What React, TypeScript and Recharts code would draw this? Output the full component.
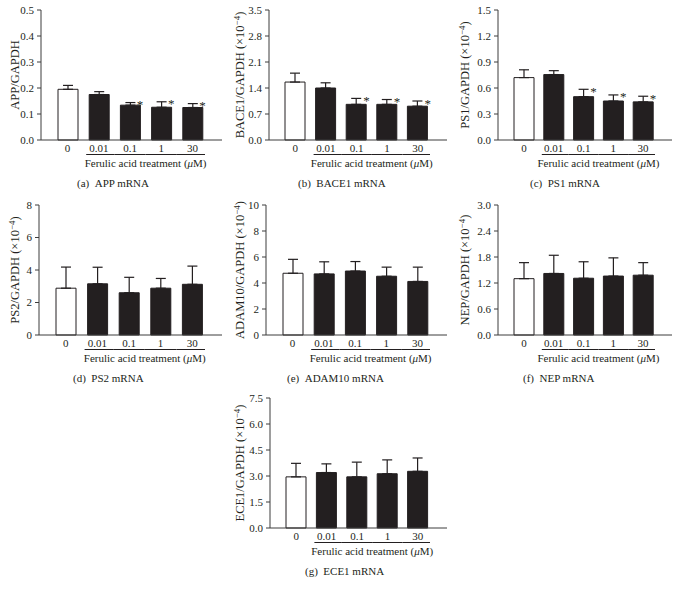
import React from 'react';
import { ComposedChart, Bar, ErrorBar, Line, XAxis, YAxis, Cell } from 'recharts';

const doses = ['0', '0.01', '0.1', '1', '30'];

// (a) APP mRNA
const appMean = [0.195, 0.175, 0.134, 0.126, 0.125];
const appErr = [0.015, 0.011, 0.01, 0.021, 0.015];
const appSig = [false, false, true, true, true];
const appTicks = [0, 0.1, 0.2, 0.3, 0.4, 0.5];

// (b) BACE1 mRNA
const bace1Mean = [1.56, 1.4, 0.96, 0.96, 0.91];
const bace1Err = [0.24, 0.14, 0.16, 0.13, 0.14];
const bace1Sig = [false, false, true, true, true];
const bace1Ticks = [0, 0.7, 1.4, 2.1, 2.8, 3.5];

// (c) PS1 mRNA
const ps1Mean = [0.72, 0.755, 0.5, 0.45, 0.44];
const ps1Err = [0.09, 0.045, 0.085, 0.07, 0.065];
const ps1Sig = [false, false, true, true, true];
const ps1Ticks = [0, 0.3, 0.6, 0.9, 1.2, 1.5];

// (d) PS2 mRNA
const ps2Mean = [2.88, 3.15, 2.6, 2.88, 3.12];
const ps2Err = [1.3, 1.02, 0.95, 0.6, 1.12];
const ps2Ticks = [0, 2, 4, 6, 8];

// (e) ADAM10 mRNA
const adam10Mean = [4.75, 4.7, 4.92, 4.52, 4.12];
const adam10Err = [1.07, 0.93, 0.73, 0.7, 1.1];
const adam10Ticks = [0, 2, 4, 6, 8, 10];

// (f) NEP mRNA
const nepMean = [1.3, 1.42, 1.31, 1.36, 1.38];
const nepErr = [0.37, 0.42, 0.38, 0.42, 0.29];
const nepTicks = [0, 0.6, 1.2, 1.8, 2.4, 3.0];

// (g) ECE1 mRNA
const ece1Mean = [2.95, 3.2, 2.95, 3.13, 3.27];
const ece1Err = [0.78, 0.5, 0.85, 0.8, 0.77];
const ece1Ticks = [0, 1.5, 3.0, 4.5, 6.0, 7.5];

const noSig = [false, false, false, false, false];

const INK = '#231f20';
const AXIS = '#3c3c3c';
const FONT = '"Liberation Serif", "DejaVu Serif", serif';

const PLOT_H = 130;
const TOP = 10;
const CHART_W = 222;
const X_AXIS_H = 56;

function buildRows(mean: number[], err: number[], sig: boolean[]) {
  return doses.map((dose, i) => ({
    dose,
    mean: mean[i],
    err: [0, err[i]],
    star: sig[i] ? mean[i] + err[i] : null,
  }));
}

// x tick: dose value, the underline under the treated doses, the axis caption and the panel caption
function DoseTick(props: any) {
  const { x, y, payload, index, caption, captionX } = props;
  const half = payload && payload.offset ? payload.offset : 15.5;
  return (
    <g>
      <text x={x} y={y + 8.5} dy="0.35em" textAnchor="middle" fontSize={11} fill={INK}>
        {payload.value}
      </text>
      {index > 0 && (
        <line
          x1={x - half + (index === 1 ? 3 : 0)}
          x2={x + half - (index === 4 ? 3 : 0)}
          y1={y + 14.5}
          y2={y + 14.5}
          stroke={INK}
          strokeWidth={1}
        />
      )}
      {index === 1 && (
        <text x={x + 3 * half} y={y + 23.5} dy="0.35em" textAnchor="middle" fontSize={11} fill={INK}>
          Ferulic acid treatment (<tspan fontStyle="italic">μ</tspan>M)
        </text>
      )}
      {index === 0 && (
        <text x={captionX} y={y + 43} dy="0.35em" textAnchor="start" fontSize={11} fill={INK}>
          {caption}
        </text>
      )}
    </g>
  );
}

function AxisTitle(props: any) {
  const { viewBox, text, exp } = props;
  const cy = viewBox ? viewBox.y + viewBox.height / 2 : 75;
  return (
    <text transform={`translate(15, ${cy}) rotate(-90)`} textAnchor="middle" dy="0.35em" fontSize={12.5} fill={INK}>
      {text}
      {exp && (
        <>
          {' (×10'}
          <tspan dy={-4.5} fontSize={9}>−4</tspan>
          <tspan dy={4.5}>)</tspan>
        </>
      )}
    </text>
  );
}

function StarDot(props: any) {
  const { cx, cy, value, index } = props;
  if (value == null || cx == null || cy == null) return <g key={`s${index}`} />;
  return (
    <text key={`s${index}`} x={cx + 10} y={cy + 6.5} textAnchor="middle" fontSize={13} fill={INK}>
      *
    </text>
  );
}

type PanelProps = {
  letter: string;
  name: string;
  title: string;
  exp: boolean;
  mean: number[];
  err: number[];
  sig: boolean[];
  ticks: number[];
  digits: number;
  left: number;
  top: number;
  axisLeft: number;
  captionLeft: number;
};

function Panel(p: PanelProps) {
  const rows = buildRows(p.mean, p.err, p.sig);
  const max = p.ticks[p.ticks.length - 1];
  return (
    <div style={{ position: 'absolute', left: p.left, top: p.top, width: CHART_W, height: TOP + PLOT_H + X_AXIS_H }}>
      <ComposedChart
        width={CHART_W}
        height={TOP + PLOT_H + X_AXIS_H}
        data={rows}
        margin={{ top: TOP, right: 0, bottom: 0, left: 0 }}
      >
        <XAxis
          dataKey="dose"
          type="category"
          height={X_AXIS_H}
          padding={{ left: 11, right: 14 }}
          axisLine={{ stroke: AXIS, strokeWidth: 1 }}
          tickLine={false}
          tickSize={0}
          tickMargin={0}
          interval={0}
          tick={<DoseTick caption={`(${p.letter})\u00a0\u00a0${p.name} mRNA`} captionX={p.captionLeft} />}
        />
        <YAxis
          type="number"
          domain={[0, max]}
          ticks={p.ticks}
          interval={0}
          width={p.axisLeft}
          tickFormatter={(v: number) => v.toFixed(p.digits)}
          axisLine={{ stroke: AXIS, strokeWidth: 1 }}
          tickLine={{ stroke: AXIS, strokeWidth: 1 }}
          tickSize={4}
          tickMargin={3}
          tick={{ fill: INK, fontSize: 11 }}
          label={<AxisTitle text={p.title} exp={p.exp} />}
        />
        <Bar dataKey="mean" barSize={20} stroke={INK} strokeWidth={1} isAnimationActive={false}>
          {rows.map((r, i) => (
            <Cell key={r.dose} fill={i === 0 ? '#ffffff' : INK} />
          ))}
          <ErrorBar dataKey="err" direction="y" width={5} stroke={INK} strokeWidth={1.2} isAnimationActive={false} />
        </Bar>
        <Line
          dataKey="star"
          stroke="none"
          isAnimationActive={false}
          dot={StarDot}
          activeDot={false}
          legendType="none"
        />
      </ComposedChart>
    </div>
  );
}

const panels: PanelProps[] = [
  { letter: 'a', name: 'APP', title: 'APP/GAPDH', exp: false, mean: appMean, err: appErr, sig: appSig, ticks: appTicks, digits: 1, left: 0, top: 0, axisLeft: 41, captionLeft: 77 },
  { letter: 'b', name: 'BACE1', title: 'BACE1/GAPDH', exp: true, mean: bace1Mean, err: bace1Err, sig: bace1Sig, ticks: bace1Ticks, digits: 1, left: 225, top: 0, axisLeft: 44, captionLeft: 73 },
  { letter: 'c', name: 'PS1', title: 'PS1/GAPDH', exp: true, mean: ps1Mean, err: ps1Err, sig: ps1Sig, ticks: ps1Ticks, digits: 1, left: 450, top: 0, axisLeft: 48, captionLeft: 80 },
  { letter: 'd', name: 'PS2', title: 'PS2/GAPDH', exp: true, mean: ps2Mean, err: ps2Err, sig: noSig, ticks: ps2Ticks, digits: 0, left: 0, top: 195, axisLeft: 39, captionLeft: 73 },
  { letter: 'e', name: 'ADAM10', title: 'ADAM10/GAPDH', exp: true, mean: adam10Mean, err: adam10Err, sig: noSig, ticks: adam10Ticks, digits: 0, left: 225, top: 195, axisLeft: 41, captionLeft: 62 },
  { letter: 'f', name: 'NEP', title: 'NEP/GAPDH', exp: true, mean: nepMean, err: nepErr, sig: noSig, ticks: nepTicks, digits: 1, left: 450, top: 195, axisLeft: 48, captionLeft: 73 },
  { letter: 'g', name: 'ECE1', title: 'ECE1/GAPDH', exp: true, mean: ece1Mean, err: ece1Err, sig: noSig, ticks: ece1Ticks, digits: 1, left: 225, top: 388, axisLeft: 45, captionLeft: 80 },
];

export default function App() {
  return (
    <div
      style={{
        position: 'absolute',
        left: 0,
        top: 0,
        width: 680,
        height: 596,
        background: '#ffffff',
        fontFamily: FONT,
        overflow: 'hidden',
      }}
    >
      {panels.map((p) => (
        <Panel key={p.letter} {...p} />
      ))}
    </div>
  );
}
